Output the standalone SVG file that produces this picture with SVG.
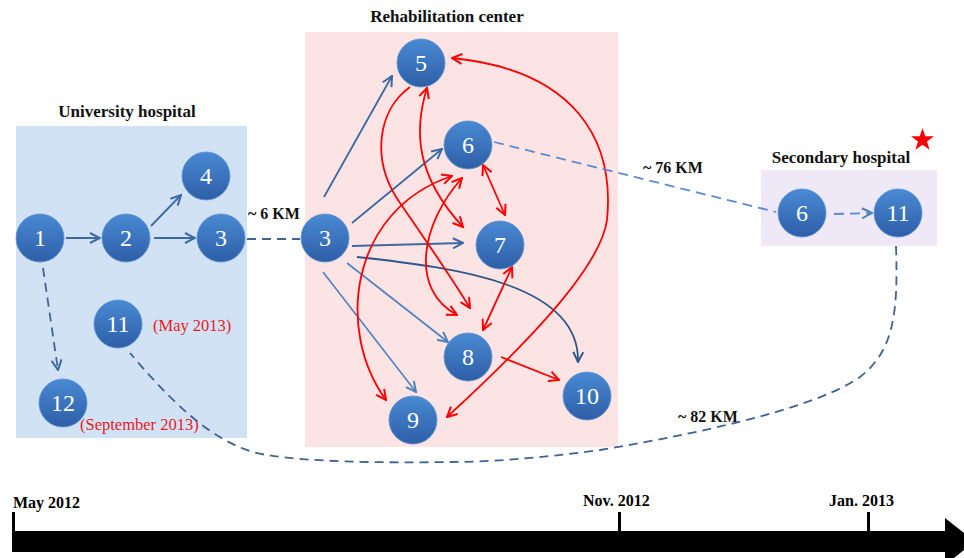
<svg xmlns="http://www.w3.org/2000/svg" width="964" height="558" viewBox="0 0 964 558">
<defs>
<linearGradient id="g" x1="0" y1="0" x2="0" y2="1">
<stop offset="0" stop-color="#4a89d4"/>
<stop offset="1" stop-color="#2d5fa6"/>
</linearGradient>
<marker id="ab" viewBox="0 0 12 12" refX="11" refY="6" markerWidth="12" markerHeight="12" markerUnits="userSpaceOnUse" orient="auto-start-reverse"><path d="M1,1 L11,6 L1,11" fill="none" stroke="#3c6aa0" stroke-width="2"/></marker>
<marker id="ad" viewBox="0 0 12 12" refX="11" refY="6" markerWidth="12" markerHeight="12" markerUnits="userSpaceOnUse" orient="auto-start-reverse"><path d="M1,1 L11,6 L1,11" fill="none" stroke="#2f5689" stroke-width="2"/></marker>
<marker id="al" viewBox="0 0 12 12" refX="11" refY="6" markerWidth="12" markerHeight="12" markerUnits="userSpaceOnUse" orient="auto-start-reverse"><path d="M1,1 L11,6 L1,11" fill="none" stroke="#4f81bd" stroke-width="2"/></marker>
<marker id="ar" viewBox="0 0 12 12" refX="11" refY="6" markerWidth="12" markerHeight="12" markerUnits="userSpaceOnUse" orient="auto-start-reverse"><path d="M1,1 L11,6 L1,11" fill="none" stroke="#ff0000" stroke-width="2"/></marker>
</defs>
<style>
.node circle{fill:url(#g);stroke:#5a8fd0;stroke-width:0.8}
.node text{font-family:"Liberation Serif",serif;font-size:24px;fill:#fff;text-anchor:middle}
.title{font-family:"Liberation Serif",serif;font-weight:bold;font-size:17px;fill:#111;text-anchor:middle}
.km{font-family:"Liberation Serif",serif;font-weight:bold;font-size:16px;fill:#111}
.date{font-family:"Liberation Serif",serif;font-size:16.5px;fill:#e8191f}
.tl{font-family:"Liberation Serif",serif;font-weight:bold;font-size:16px;fill:#000}
.b{fill:none;stroke:#3c6aa0;stroke-width:1.8}
.bd{fill:none;stroke:#2f5689;stroke-width:1.8}
.bl{fill:none;stroke:#4f81bd;stroke-width:1.6}
.r{fill:none;stroke:#ff0000;stroke-width:1.8}
.dash{fill:none;stroke:#3e6394;stroke-width:1.8;stroke-dasharray:9 6}
.dashl{fill:none;stroke:#5b8bd0;stroke-width:1.8;stroke-dasharray:10 6}
</style>
<rect width="964" height="558" fill="#fff"/>
<!-- areas -->
<rect x="16" y="126" width="231" height="312" fill="#d2e2f5"/>
<rect x="305" y="32" width="313" height="415" fill="#fde4e4"/>
<rect x="761" y="170" width="176" height="76" fill="#efe9f7"/>
<text class="title" x="127" y="117">University hospital</text>
<text class="title" x="447" y="22">Rehabilitation center</text>
<text class="title" x="841" y="163">Secondary hospital</text>
<polygon points="922.5,128 925.3,136.3 934,136.3 927,141.5 929.6,149.8 922.5,144.7 915.4,149.8 918,141.5 911,136.3 919.7,136.3" fill="#ff0000"/>
<text class="km" x="248" y="219">~ 6 KM</text>
<text class="km" x="643" y="173">~ 76 KM</text>
<text class="km" x="678" y="422">~ 82 KM</text>
<text class="date" x="153" y="331">(May 2013)</text>
<text class="date" x="80" y="430">(September 2013)</text>
<!-- connectors -->
<g id="connectors">
<path class="b" d="M66,238 L100,238" marker-end="url(#ab)"/>
<path class="b" d="M151,226 L181,195" marker-end="url(#ab)"/>
<path class="b" d="M154,238 L195,238" marker-end="url(#ab)"/>
<path class="dash" d="M43,268 L58,370" marker-end="url(#ab)"/>
<path class="dash" d="M247,239 L300,239"/>
<path class="b" d="M324,197 L392,76" marker-end="url(#ab)"/>
<path class="b" d="M352,223 L442,149" marker-end="url(#ab)"/>
<path class="b" d="M352,246 L463,243" marker-end="url(#ab)"/>
<path class="bd" d="M357,257 C460,268 580,285 578,362" marker-end="url(#ad)"/>
<path class="bl" d="M347,263 L448,342" marker-end="url(#al)"/>
<path class="bl" d="M323,272 L416,392" marker-end="url(#al)"/>
<path class="r" d="M410,87 C378,110 370,160 400,203 C420,232 450,275 470,308" marker-end="url(#ar)"/>
<path class="r" d="M427,88 C414,130 415,175 463,227" marker-start="url(#ar)" marker-end="url(#ar)"/>
<path class="r" d="M462,178 C420,225 410,290 457,315" marker-start="url(#ar)" marker-end="url(#ar)"/>
<path class="r" d="M452,176 C350,210 335,330 386,400" marker-start="url(#ar)" marker-end="url(#ar)"/>
<path class="r" d="M452,58 C575,70 615,140 607,220 C600,270 520,350 447,417" marker-start="url(#ar)" marker-end="url(#ar)"/>
<path class="r" d="M483,165 L505,215" marker-start="url(#ar)" marker-end="url(#ar)"/>
<path class="r" d="M512,267 L483,330" marker-start="url(#ar)" marker-end="url(#ar)"/>
<path class="r" d="M501,357 L559,380" marker-end="url(#ar)"/>
<path class="dashl" d="M494,142 L776,212"/>
<path class="dashl" d="M834,214 L872,213" marker-end="url(#al)"/>
<path class="dash" d="M896,246 C898,310 895,350 860,377 C820,405 720,430 600,450 C540,458 490,462 450,462 C380,463 310,462 267,455 C215,447 170,400 130,353"/>
</g>
<!-- nodes -->
<g id="n1" class="node"><circle cx="40" cy="238" r="24"/><text x="40" y="246">1</text></g>
<g id="n2" class="node"><circle cx="126" cy="238" r="24"/><text x="126" y="246">2</text></g>
<g id="n3u" class="node"><circle cx="221" cy="238" r="24"/><text x="221" y="246">3</text></g>
<g id="n4" class="node"><circle cx="206" cy="176" r="24"/><text x="206" y="184">4</text></g>
<g id="n11u" class="node"><circle cx="118" cy="324" r="24"/><text x="118" y="332">11</text></g>
<g id="n12" class="node"><circle cx="63" cy="403" r="24"/><text x="63" y="411">12</text></g>
<g id="n3r" class="node"><circle cx="325" cy="238" r="24"/><text x="325" y="246">3</text></g>
<g id="n5" class="node"><circle cx="421" cy="63" r="24"/><text x="421" y="71">5</text></g>
<g id="n6r" class="node"><circle cx="468" cy="145" r="24"/><text x="468" y="153">6</text></g>
<g id="n7" class="node"><circle cx="500" cy="245" r="24"/><text x="500" y="253">7</text></g>
<g id="n8" class="node"><circle cx="468" cy="357" r="24"/><text x="468" y="365">8</text></g>
<g id="n9" class="node"><circle cx="413" cy="420" r="24"/><text x="413" y="428">9</text></g>
<g id="n10" class="node"><circle cx="587" cy="396" r="24"/><text x="587" y="404">10</text></g>
<g id="n6s" class="node"><circle cx="802" cy="213" r="24"/><text x="802" y="221">6</text></g>
<g id="n11s" class="node"><circle cx="898" cy="213" r="24"/><text x="898" y="221">11</text></g>
<!-- timeline -->
<g id="timeline">
<rect x="12" y="531" width="936" height="21" fill="#000"/>
<polygon points="945,518 975,541.5 945,565" fill="#000"/>
<rect x="12" y="512" width="3" height="20" fill="#000"/>
<rect x="618" y="512" width="3" height="20" fill="#000"/>
<rect x="867" y="512" width="3" height="20" fill="#000"/>
<text class="tl" x="13" y="508">May 2012</text>
<text class="tl" x="583" y="506">Nov. 2012</text>
<text class="tl" x="829" y="506">Jan. 2013</text>
</g>
</svg>
